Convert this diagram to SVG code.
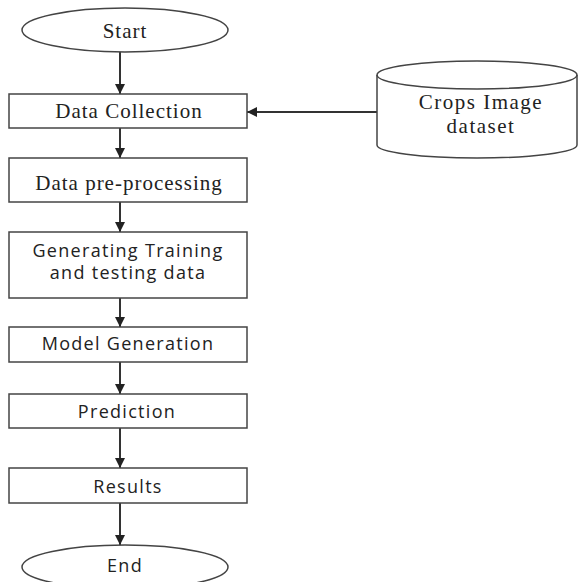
<svg xmlns="http://www.w3.org/2000/svg" width="580" height="582" viewBox="0 0 580 582">
<defs>
<marker id="ah" viewBox="0 0 10 10" refX="10" refY="5" markerWidth="10" markerHeight="10" markerUnits="userSpaceOnUse" orient="auto">
<path d="M0,0 L10,5 L0,10 z" fill="#222"/>
</marker>
<style>
.box{fill:#fff;stroke:#444;stroke-width:1.5}
.ser{font-family:"Liberation Serif",serif;font-size:21px;letter-spacing:1px;fill:#222;text-anchor:middle;dominant-baseline:central}
.sans{font-family:"Open Sans",sans-serif;font-size:18px;letter-spacing:1.3px;fill:#222;text-anchor:middle;dominant-baseline:central}
.con{stroke:#333;stroke-width:2;fill:none;marker-end:url(#ah)}
</style>
</defs>
<rect width="580" height="582" fill="#fff"/>
<g id="connectors">
<line class="con" x1="120" y1="52" x2="120" y2="94"/>
<line class="con" x1="120" y1="128" x2="120" y2="158"/>
<line class="con" x1="120" y1="202" x2="120" y2="232"/>
<line class="con" x1="120" y1="298" x2="120" y2="327"/>
<line class="con" x1="120" y1="362" x2="120" y2="394"/>
<line class="con" x1="120" y1="428" x2="120" y2="468"/>
<line class="con" x1="120" y1="503" x2="120" y2="545"/>
<line class="con" x1="377" y1="112" x2="247" y2="112"/>
</g>
<g id="start">
<ellipse class="box" cx="125" cy="30" rx="103" ry="22"/>
<text class="ser" x="125" y="31">Start</text>
</g>
<g id="data-collection">
<rect class="box" x="9" y="94" width="238" height="34"/>
<text class="ser" x="129" y="111">Data Collection</text>
</g>
<g id="data-preprocessing">
<rect class="box" x="9" y="158" width="238" height="44"/>
<text class="ser" x="129" y="183">Data pre-processing</text>
</g>
<g id="generating">
<rect class="box" x="9" y="232" width="238" height="66"/>
<text class="sans" x="128" y="250">Generating Training</text>
<text class="sans" x="128" y="272">and testing data</text>
</g>
<g id="model-generation">
<rect class="box" x="9" y="327" width="238" height="35"/>
<text class="sans" x="128" y="343">Model Generation</text>
</g>
<g id="prediction">
<rect class="box" x="9" y="394" width="238" height="34"/>
<text class="sans" x="127" y="411">Prediction</text>
</g>
<g id="results">
<rect class="box" x="9" y="468" width="238" height="35"/>
<text class="sans" x="128" y="486">Results</text>
</g>
<g id="end">
<ellipse class="box" cx="125" cy="567" rx="103" ry="22"/>
<text class="sans" x="125" y="565">End</text>
</g>
<g id="crops-dataset">
<path class="box" d="M377,75 L377,145 A100,13 0 0 0 577,145 L577,75 A100,14 0 0 0 377,75 Z"/>
<path d="M377,75 A100,14 0 0 0 577,75" fill="none" stroke="#444" stroke-width="1.5"/>
<text class="ser" x="481" y="102" style="font-size:21px;letter-spacing:1.5px">Crops Image</text>
<text class="ser" x="481" y="126" style="font-size:21px;letter-spacing:1.5px">dataset</text>
</g>
</svg>
